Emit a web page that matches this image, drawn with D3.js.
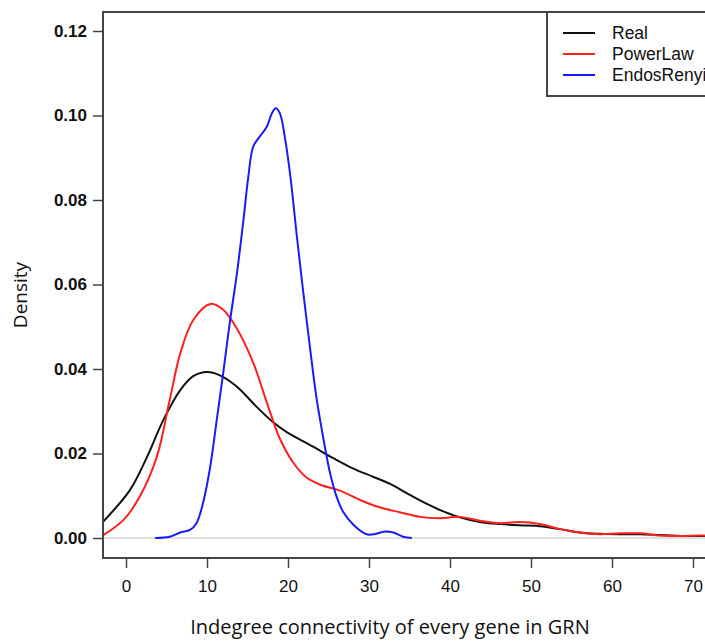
<!DOCTYPE html>
<html><head><meta charset="utf-8">
<script src="https://cdn.jsdelivr.net/npm/d3@7"></script>
<style>
html,body{margin:0;padding:0;background:#fff;}
svg{display:block;}
</style></head>
<body><svg id="chart" width="705" height="644"></svg>
<script>
// ---- data ----
const seriesNames = ["Real", "PowerLaw", "EndosRenyi"];
const seriesColors = ["#111111", "#ff2020", "#1a1aff"];

const realX = [-2.8, 0.5, 2.6, 4.6, 6.7, 8.3, 10.0, 11.6, 13.7, 16.1, 18.1, 19.8, 23.1, 25.6, 28.0, 30.5, 32.6, 34.5, 36.3, 38.8, 41.2, 43.7, 46.2, 48.6, 51.1, 53.6, 56.0, 58.5, 61.0, 63.5, 65.9, 68.4, 70.9, 73.5];
const realY = [0.0039, 0.0114, 0.0192, 0.0279, 0.0350, 0.0383, 0.0393, 0.0385, 0.0358, 0.0311, 0.0275, 0.0251, 0.0216, 0.0189, 0.0165, 0.0145, 0.0128, 0.0108, 0.0089, 0.0066, 0.0049, 0.0038, 0.0033, 0.0030, 0.0028, 0.0021, 0.0013, 0.0010, 0.0009, 0.0009, 0.0007, 0.0005, 0.0005, 0.0004];

const powerX = [-2.8, -0.3, 1.7, 3.8, 5.4, 6.7, 8.3, 10.4, 12.0, 13.7, 15.7, 17.4, 19.0, 20.7, 22.3, 24.0, 26.4, 28.9, 31.4, 33.8, 36.3, 38.8, 41.2, 43.7, 46.2, 48.6, 51.1, 53.6, 56.0, 58.5, 61.0, 63.5, 65.9, 68.4, 70.9, 73.5];
const powerY = [0.0007, 0.0043, 0.0098, 0.0192, 0.0327, 0.0437, 0.0516, 0.0554, 0.0540, 0.0495, 0.0415, 0.0320, 0.0235, 0.0177, 0.0143, 0.0126, 0.0112, 0.0090, 0.0072, 0.0061, 0.0050, 0.0047, 0.0050, 0.0041, 0.0035, 0.0038, 0.0033, 0.0021, 0.0013, 0.0009, 0.0011, 0.0011, 0.0006, 0.0005, 0.0006, 0.0005];

const erX = [3.6, 5.4, 6.7, 7.9, 8.7, 9.5, 10.4, 11.2, 12.0, 12.8, 13.7, 14.5, 15.1, 15.7, 16.5, 17.4, 18.0, 18.5, 19.0, 19.6, 20.3, 21.1, 21.9, 22.7, 23.5, 24.4, 25.2, 26.0, 26.8, 28.1, 29.7, 30.7, 31.8, 33.0, 34.2, 35.3];
const erY = [0.0000, 0.0003, 0.0013, 0.0019, 0.0035, 0.0082, 0.0169, 0.0279, 0.0390, 0.0508, 0.0627, 0.0753, 0.0855, 0.0926, 0.0950, 0.0974, 0.1005, 0.1017, 0.1005, 0.0950, 0.0855, 0.0713, 0.0579, 0.0453, 0.0334, 0.0232, 0.0153, 0.0098, 0.0062, 0.0031, 0.0009, 0.0009, 0.0015, 0.0013, 0.0003, 0.0000];

const xTicks = [0, 10, 20, 30, 40, 50, 60, 70];
const yTicks = [0.00, 0.02, 0.04, 0.06, 0.08, 0.10, 0.12];
const xTitle = "Indegree connectivity of every gene in GRN";
const yTitle = "Density";

// ---- layout ----
const svg = d3.select("#chart");
const plot = {left: 103, top: 12, right: 730, bottom: 558};
const x = d3.scaleLinear().domain([0, 70]).range([126, 693]);
const y = d3.scaleLinear().domain([0, 0.12]).range([538, 31]);

const tickFont = "'Liberation Sans', Arial, sans-serif";
const titleFont = "'Open Sans', 'DejaVu Sans', sans-serif";

// zero line
svg.append("line")
  .attr("x1", plot.left).attr("x2", plot.right)
  .attr("y1", y(0)).attr("y2", y(0))
  .attr("stroke", "#d6d6d6").attr("stroke-width", 1.5);

// curves
const series = [
  {xs: realX, ys: realY},
  {xs: powerX, ys: powerY},
  {xs: erX, ys: erY}
];
const line = d3.line().x(d => x(d[0])).y(d => y(d[1])).curve(d3.curveCatmullRom.alpha(0.5));
svg.append("clipPath").attr("id", "clip").append("rect")
  .attr("x", plot.left).attr("y", plot.top)
  .attr("width", plot.right - plot.left).attr("height", plot.bottom - plot.top);
const g = svg.append("g").attr("clip-path", "url(#clip)");
series.forEach((s, i) => {
  const pts = s.xs.map((v, j) => [v, s.ys[j]]);
  g.append("path").datum(pts)
    .attr("d", line)
    .attr("fill", "none")
    .attr("stroke", seriesColors[i])
    .attr("stroke-width", 2)
    .attr("stroke-linejoin", "round");
});

// frame
svg.append("rect")
  .attr("x", plot.left).attr("y", plot.top)
  .attr("width", plot.right - plot.left).attr("height", plot.bottom - plot.top)
  .attr("fill", "none").attr("stroke", "#444").attr("stroke-width", 2);

// x axis
const xAxis = svg.append("g").attr("transform", `translate(0,${plot.bottom})`)
  .call(d3.axisBottom(x).tickValues(xTicks).tickFormat(d3.format("d")).tickSize(10).tickPadding(12));
xAxis.select(".domain").remove();
xAxis.selectAll(".tick line").attr("stroke", "#444").attr("stroke-width", 1.5);
xAxis.selectAll(".tick text").attr("font-family", tickFont).attr("font-size", 17)
  .attr("fill", "#111");

// y axis
const yAxis = svg.append("g").attr("transform", `translate(${plot.left},0)`)
  .call(d3.axisLeft(y).tickValues(yTicks).tickFormat(d3.format(".2f")).tickSize(10).tickPadding(6));
yAxis.select(".domain").remove();
yAxis.selectAll(".tick line").attr("stroke", "#444").attr("stroke-width", 1.5);
yAxis.selectAll(".tick text").attr("font-family", tickFont).attr("font-size", 17)
  .attr("fill", "#111").style("font-weight", "bold");

// titles
svg.append("text").attr("x", 390).attr("y", 634).attr("text-anchor", "middle")
  .attr("font-family", titleFont).attr("font-size", 20).attr("fill", "#111").text(xTitle);
svg.append("text").attr("transform", "translate(27,295) rotate(-90)").attr("text-anchor", "middle")
  .attr("font-family", titleFont).attr("font-size", 19).attr("fill", "#111").text(yTitle);

// legend
const leg = svg.append("g");
leg.append("rect").attr("x", 547).attr("y", 12).attr("width", 200).attr("height", 84)
  .attr("fill", "#fff").attr("stroke", "#444").attr("stroke-width", 2);
seriesNames.forEach((name, i) => {
  const yy = 33 + i * 21;
  leg.append("line").attr("x1", 563).attr("x2", 595).attr("y1", yy).attr("y2", yy)
    .attr("stroke", seriesColors[i]).attr("stroke-width", 2);
  leg.append("text").attr("x", 612).attr("y", yy + 6)
    .attr("font-family", tickFont).attr("font-size", 17.5).attr("fill", "#111").text(name);
});
</script></body></html>
